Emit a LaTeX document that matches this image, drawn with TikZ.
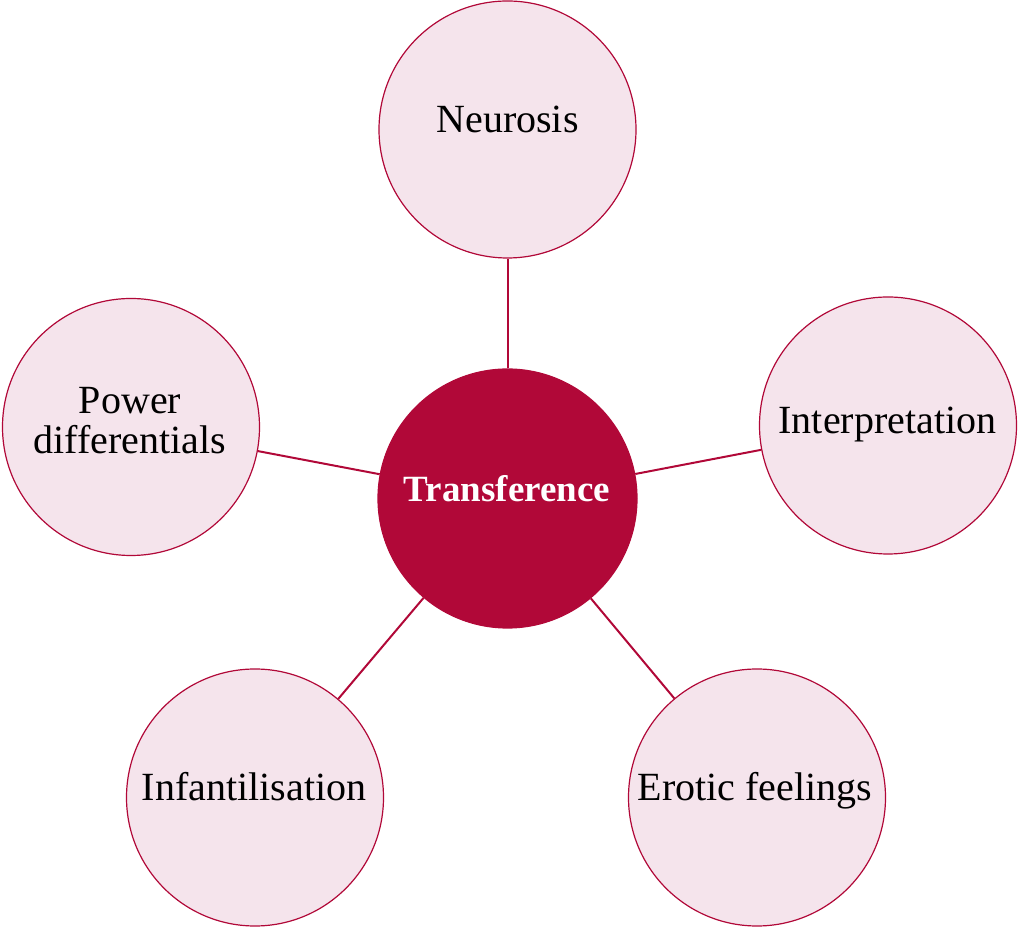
\documentclass[tikz,border=0pt]{standalone}
\usepackage{fontspec}
\setmainfont{Liberation Serif}
\definecolor{crim}{HTML}{B10838}
\definecolor{pinkfill}{HTML}{F5E4EC}
\tikzset{
  outer/.style={circle, draw=crim, line width=0.6pt, fill=pinkfill, minimum size=128.5pt, inner sep=0pt},
  hub/.style={circle, fill=crim, draw=crim, line width=0.6pt, minimum size=129.5pt, inner sep=0pt},
  conn/.style={draw=crim, line width=1pt},
  lbl/.style={anchor=base, inner sep=0pt, align=center, font=\fontsize{20}{20}\selectfont},
  hublbl/.style={anchor=base, inner sep=0pt, text=white, font=\fontsize{18.5}{20}\selectfont\bfseries}
}
\begin{document}
\begin{tikzpicture}[x=0.5pt, y=-0.5pt]
\useasboundingbox (0,0) rectangle (1018,929);
\node[hub] (t) at (507.5,498.5) {};
\node[outer] (n) at (507.5,129.5) {};
\node[outer] (i) at (888,425.5) {};
\node[outer] (p) at (131,427) {};
\node[outer] (f) at (255,797.5) {};
\node[outer] (e) at (757,797.5) {};
\draw[conn] (t) -- (n);
\draw[conn] (t) -- (i);
\draw[conn] (t) -- (p);
\draw[conn] (t) -- (f);
\draw[conn] (t) -- (e);
\node[hublbl] (tl) at (507,502) {Transference};
\node[lbl] (nl) at (507.5,133) {Neurosis};
\node[lbl] (il) at (887.5,434) {Interpretation};
\node[lbl] (pl) at (130,454) {Power\\differentials};
\node[lbl] (fl) at (254,801) {Infantilisation};
\node[lbl] (el) at (755,801) {Erotic feelings};
\end{tikzpicture}
\end{document}
